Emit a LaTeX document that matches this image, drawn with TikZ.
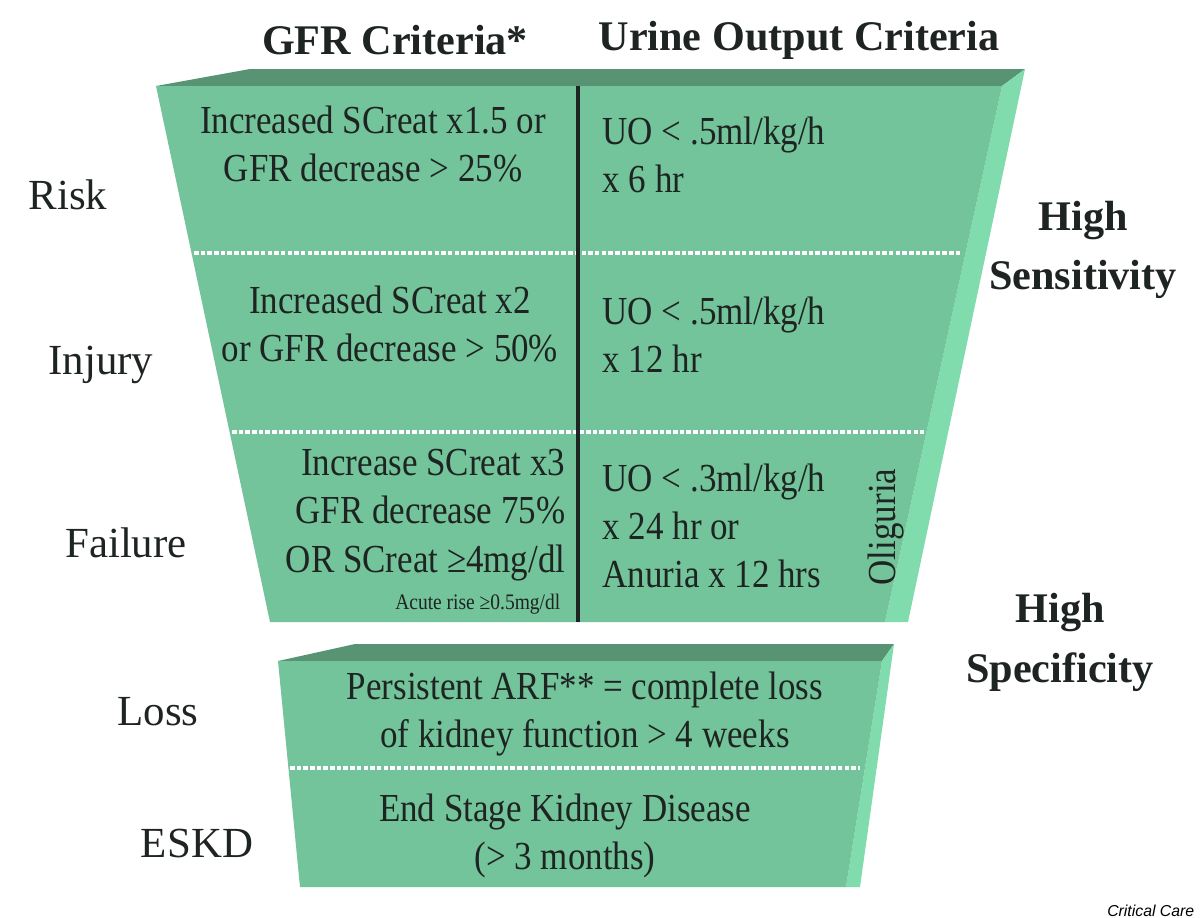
\documentclass[tikz,border=0pt]{standalone}
\usepackage{fontspec}
\setmainfont{Liberation Serif}
\newfontfamily\narrowserif[FakeStretch=0.88]{Liberation Serif}
\newfontfamily\creditfont{Liberation Sans}
\usetikzlibrary{positioning}
\definecolor{facegreen}{RGB}{115,195,155}
\definecolor{topgreen}{RGB}{88,148,116}
\definecolor{sidegreen}{RGB}{128,220,172}
\definecolor{inkgray}{RGB}{30,36,33}

\begin{document}
\begin{tikzpicture}[x=0.01cm,y=-0.01cm,
  lbl/.style={font=\fontsize{12.2}{14}\selectfont,text=inkgray,inner sep=0pt},
  hdr/.style={font=\fontsize{12}{17}\selectfont\bfseries,text=inkgray,inner sep=0pt,align=center},
  txt/.style={font=\narrowserif\fontsize{11.3}{13.7}\selectfont,text=inkgray,inner sep=0pt},
  tiny/.style={font=\narrowserif\fontsize{6.3}{7}\selectfont,text=inkgray,inner sep=0pt},
  dots/.style={white,line width=1pt,dash pattern=on 1.3pt off 0.6pt},
  split/.style={inkgray,line width=1.4pt}]
\useasboundingbox (0,0) rectangle (1200,917);
% upper block
\fill[topgreen] (156,86) -- (250,69) -- (1025,69) -- (1002,86) -- cycle;
\fill[sidegreen] (1002,86) -- (1025,69) -- (908,622) -- (885,622) -- cycle;
\fill[facegreen] (156,86) -- (1002,86) -- (885,622) -- (270,622) -- cycle;
% lower block
\fill[topgreen] (278,661) -- (355,644) -- (894,644) -- (882,661) -- cycle;
\fill[sidegreen] (882,661) -- (894,644) -- (860,887) -- (846,887) -- cycle;
\fill[facegreen] (278,661) -- (882,661) -- (846,887) -- (300,887) -- cycle;

\coordinate (s1l) at (194,253); \coordinate (s1r) at (962,253);
\coordinate (s2l) at (232,432); \coordinate (s2r) at (924,432);
\coordinate (s3l) at (290,768); \coordinate (s3r) at (860,768);
\coordinate (vt) at (578,86); \coordinate (vb) at (578,622);
\draw[dots] (s1l) -- (s1r);
\draw[dots] (s2l) -- (s2r);
\draw[dots] (s3l) -- (s3r);
\draw[split] (vt) -- (vb);

\node[hdr] (gfr) at (395,40) {GFR Criteria*};
\node[hdr] (uo) at (799,40) {Urine Output Criteria};
\node[hdr] (sens) at (1083,250) {High\\Sensitivity};
\node[hdr] (spec) at (1060,642) {High\\Specificity};

\node[lbl] (risk) at (68,195) {Risk};
\node[lbl] (injury) at (101,365) {Injury};
\node[lbl] (failure) at (126,543) {Failure};
\node[lbl] (loss) at (158,712) {Loss};
\node[lbl] (eskd) at (197,843) {ESKD};

\node[txt,align=center] (riskgfr) at (373,144) {Increased SCreat x1.5 or\\GFR decrease > 25\%};
\node[txt,align=left,anchor=west] (riskuo) at (602,155) {UO < .5ml/kg/h\\x 6 hr};
\node[txt,align=center] (injgfr) at (390,324) {Increased SCreat x2\\or GFR decrease > 50\%};
\node[txt,align=left,anchor=west] (injuo) at (602,335) {UO < .5ml/kg/h\\x 12 hr};
\node[txt,align=right,anchor=east] (failgfr) at (566,515) {Increase SCreat x3\\GFR decrease 75\%\\OR SCreat ≥4mg/dl};
\node[tiny,anchor=east] (acute) at (561,604) {Acute rise ≥0.5mg/dl};
\node[txt,align=left,anchor=west] (failuo) at (602,526) {UO < .3ml/kg/h\\x 24 hr or\\Anuria x 12 hrs};
\node[txt,rotate=90] (olig) at (886,527) {Oliguria};
\node[txt,align=center] (losstxt) at (585,714) {Persistent ARF** = complete loss\\of kidney function > 4 weeks};
\node[txt,align=center] (eskdtxt) at (565,836) {End Stage Kidney Disease\\(> 3 months)};

\node[font=\creditfont\itshape\fontsize{4.5}{5}\selectfont,inner sep=0pt,anchor=east] (credit) at (1195,911) {Critical Care};
\end{tikzpicture}
\end{document}
